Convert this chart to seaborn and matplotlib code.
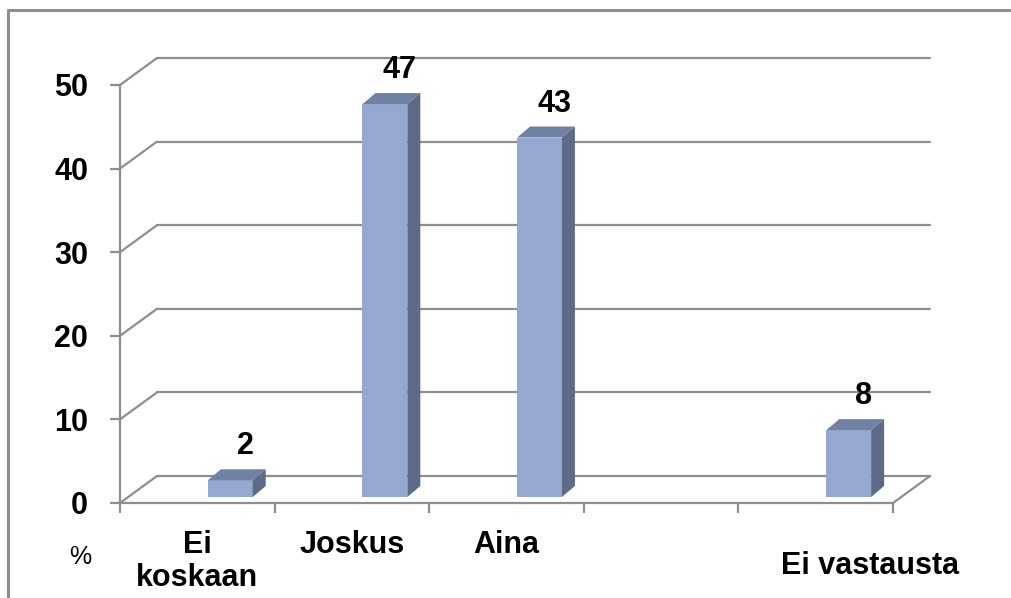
import numpy as np
import pandas as pd
import matplotlib
matplotlib.use("Agg")
import matplotlib.pyplot as plt
import matplotlib.transforms as mtransforms
from matplotlib.lines import Line2D
from matplotlib.patches import Polygon
import seaborn as sns

# Data
kategoriat = ["Ei koskaan", "Joskus", "Aina", "", "Ei vastausta"]
kategoria_tekstit = ["Ei\nkoskaan", "Joskus", "Aina", "", "Ei vastausta"]
vastaukset = ["Ei koskaan", "Joskus", "Aina", "Ei vastausta"]
osuudet = [2, 47, 43, 8]
y_tikit = [0, 10, 20, 30, 40, 50]

# Colours
ETU = "#95A9D0"
SIVU = "#5E6B88"
KANSI = "#7081A3"
HARMAA = "#8E8E8E"
KOKO = 22

sns.set_style("white")
plt.rcParams["font.family"] = ["Liberation Sans", "DejaVu Sans"]
plt.rcParams["text.color"] = "black"
plt.rcParams["ytick.labelcolor"] = "black"

df = pd.DataFrame({"vastaus": vastaukset, "osuus": osuudet})

fig = plt.figure(figsize=(10.12, 5.98), dpi=100)
W, H = 1012, 598
ax = fig.add_axes([120 / W, 95 / H, 773 / W, 418 / H])

sns.barplot(data=df, x="vastaus", y="osuus", order=kategoriat, color=ETU,
            saturation=1, width=0.29, errorbar=None, ax=ax, zorder=3)

ax.set_xlim(-0.5, len(kategoriat) - 0.5)
ax.set_ylim(y_tikit[0], y_tikit[-1])
ax.set_xlabel("")
ax.set_ylabel("")

# offsets (inches at 100 dpi)
seina = mtransforms.ScaledTranslation(0.37, 0.27, fig.dpi_scale_trans)
palkki = mtransforms.ScaledTranslation(0.33, 0.06, fig.dpi_scale_trans)

# back wall gridlines + side wall obliques
x0, x1 = ax.get_xlim()
for v in y_tikit:
    ax.add_line(Line2D([x0, x1], [v, v], color=HARMAA, lw=1.6,
                       transform=ax.transData + seina, clip_on=False, zorder=1))
    ax.annotate("", xy=(x0, v), xytext=(37, 27), textcoords="offset pixels",
                arrowprops=dict(arrowstyle="-", color=HARMAA, lw=1.6,
                                shrinkA=0, shrinkB=0),
                annotation_clip=False, zorder=1)
# floor right edge
ax.annotate("", xy=(x1, 0), xytext=(37, 27), textcoords="offset pixels",
            arrowprops=dict(arrowstyle="-", color=HARMAA, lw=1.6,
                            shrinkA=0, shrinkB=0),
            annotation_clip=False, zorder=1)

# 3D bars
p0 = ax.transData.transform((0, 0))
p1 = ax.transData.transform((1, 1))
ddx = 13 / (p1[0] - p0[0])
ddy = 11 / (p1[1] - p0[1])
for p in list(ax.patches):
    p.set_transform(ax.transData + palkki)
    p.set_edgecolor("none")
    xa = p.get_x()
    xb = xa + p.get_width()
    yt = p.get_y() + p.get_height()
    yb = p.get_y()
    kansi = Polygon([(xa, yt), (xb, yt), (xb + ddx, yt + ddy), (xa + ddx, yt + ddy)],
                    closed=True, facecolor=KANSI, edgecolor="none",
                    transform=ax.transData + palkki, zorder=3, clip_on=False)
    sivu = Polygon([(xb, yb), (xb + ddx, yb + ddy), (xb + ddx, yt + ddy), (xb, yt)],
                   closed=True, facecolor=SIVU, edgecolor="none",
                   transform=ax.transData + palkki, zorder=3, clip_on=False)
    ax.add_patch(kansi)
    ax.add_patch(sivu)

# value labels
for vastaus, arvo in zip(vastaukset, osuudet):
    i = kategoriat.index(vastaus)
    ax.annotate(f"{arvo}", xy=(i, arvo), xytext=(48, 40), textcoords="offset pixels",
                ha="center", va="center", fontsize=KOKO, fontweight="bold",
                color="black", annotation_clip=False)

# category labels
for i, teksti in enumerate(kategoria_tekstit):
    dx, dy = (54, -48) if i == len(kategoria_tekstit) - 1 else (0, -27)
    ax.annotate(teksti, xy=(i, 0), xytext=(dx, dy), textcoords="offset pixels",
                ha="center", va="top", fontsize=KOKO, fontweight="bold",
                color="black", linespacing=1.15, annotation_clip=False)

# axes styling
ax.set_xticks(np.arange(len(kategoriat) + 1) - 0.5)
ax.set_xticklabels([])
ax.set_yticks(y_tikit)
ax.set_yticklabels([str(v) for v in y_tikit], fontsize=KOKO, fontweight="bold",
                   color="black")
ax.tick_params(axis="y", length=7, width=1.6, color=HARMAA, pad=16, left=True)
ax.tick_params(axis="x", length=7, width=1.6, color=HARMAA, bottom=True)
for s in ["top", "right"]:
    ax.spines[s].set_visible(False)
for s in ["left", "bottom"]:
    ax.spines[s].set_color(HARMAA)
    ax.spines[s].set_linewidth(1.6)
ax.patch.set_alpha(0)

fig.text(80 / W, 1 - 557 / H, "%", ha="center", va="center", fontsize=18,
         color="black")

# outer frame
fig.add_artist(Line2D([8 / W, 1], [1 - 10 / H, 1 - 10 / H], color=HARMAA, lw=2.2,
                      transform=fig.transFigure))
fig.add_artist(Line2D([8 / W, 8 / W], [0, 1 - 10 / H], color=HARMAA, lw=2.2,
                      transform=fig.transFigure))

fig.savefig("out.png", dpi=100)
